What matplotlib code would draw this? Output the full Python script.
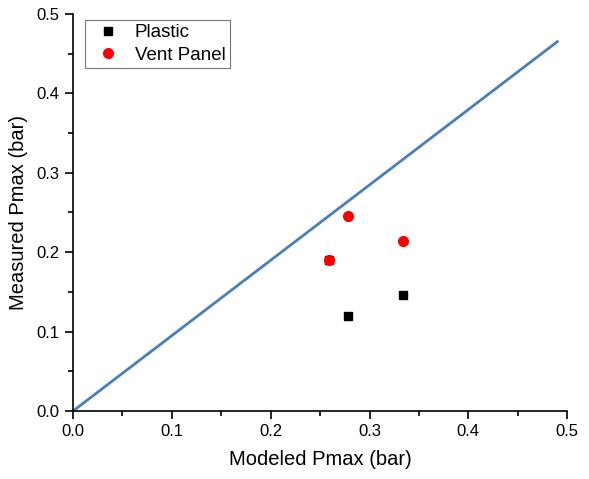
import numpy as np
import matplotlib.pyplot as plt
from matplotlib.ticker import MultipleLocator

# Data
plastic_x = [0.259, 0.278, 0.334]
plastic_y = [0.190, 0.120, 0.146]
vent_x = [0.259, 0.278, 0.334]
vent_y = [0.190, 0.245, 0.214]
line_x = [0.0, 0.49]
line_y = [0.0, 0.465]

plt.rcParams['font.family'] = ['Liberation Sans', 'DejaVu Sans']

fig = plt.figure(figsize=(5.89, 4.79), dpi=100)
ax = fig.add_axes([0.124, 0.142, 0.839, 0.829])

ax.plot(line_x, line_y, color='#4a7ebb', lw=2)
ax.plot(plastic_x, plastic_y, 's', color='black', ms=6, label='Plastic', clip_on=False)
ax.plot(vent_x, vent_y, 'o', color='red', ms=7, label='Vent Panel', clip_on=False)

ax.set_xlim(0, 0.5)
ax.set_ylim(0, 0.5)
ax.xaxis.set_major_locator(MultipleLocator(0.1))
ax.yaxis.set_major_locator(MultipleLocator(0.1))
ax.xaxis.set_minor_locator(MultipleLocator(0.05))
ax.yaxis.set_minor_locator(MultipleLocator(0.05))
ax.tick_params(which='major', direction='out', length=6, width=1.2, labelsize=12)
ax.tick_params(which='minor', direction='out', length=3.5, width=1.2)
ax.spines['top'].set_visible(False)
ax.spines['right'].set_visible(False)
for s in ['left', 'bottom']:
    ax.spines[s].set_linewidth(1.2)

ax.set_xlabel('Modeled Pmax (bar)', fontsize=14.5, labelpad=8)
ax.set_ylabel('Measured Pmax (bar)', fontsize=14.5, labelpad=6)

leg = ax.legend(loc='upper left', bbox_to_anchor=(0.024, 0.985), fontsize=13.5, fancybox=False,
                edgecolor='#555555', handletextpad=0.45, borderpad=0.22, labelspacing=0.3,
                handlelength=2.0, borderaxespad=0)
leg.get_frame().set_linewidth(0.8)

fig.savefig('out.png', dpi=100)
